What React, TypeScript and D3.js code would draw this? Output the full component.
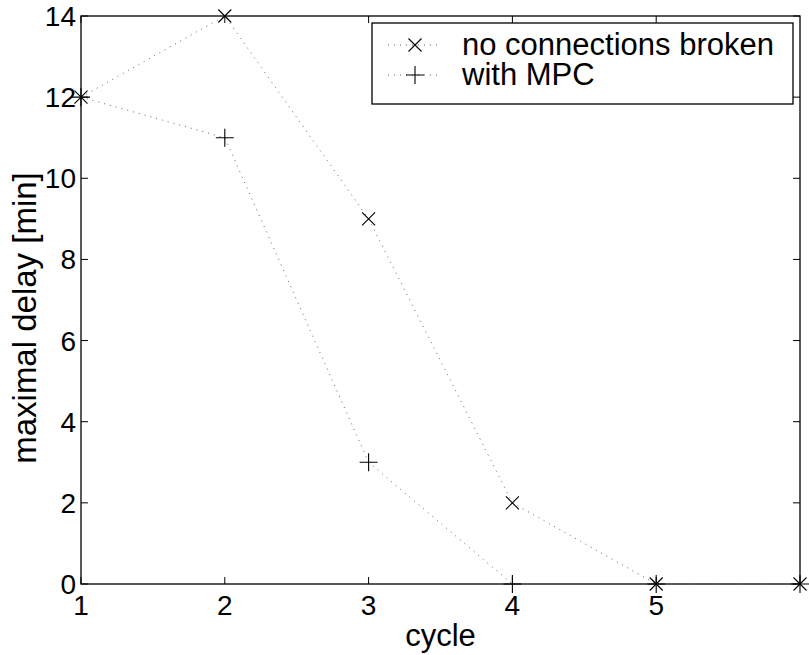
import React, { useEffect, useRef } from 'react'
import * as d3 from 'd3'

const cycles = [1, 2, 3, 4, 5, 6]
const noBroken = [12, 14, 9, 2, 0, 0]
const withMPC = [12, 11, 3, 0, 0, 0]
const xTicks = [1, 2, 3, 4, 5]
const yTicks = [0, 2, 4, 6, 8, 10, 12, 14]
const seriesNames = ['no connections broken', 'with MPC']

export default function App() {
    const svgRef = useRef<SVGSVGElement>(null)
    const width = 809, height = 655
    const margin = { top: 16, right: 9, bottom: 71, left: 81 }

    useEffect(() => {
        const svg = d3.select(svgRef.current)
        svg.selectAll('*').remove()
        const font = '"Liberation Sans", Arial, Helvetica, sans-serif'

        const x = d3.scaleLinear().domain([1, 6]).range([margin.left, width - margin.right])
        const y = d3.scaleLinear().domain([0, 14]).range([height - margin.bottom, margin.top])
        const x0 = x.range()[0], x1 = x.range()[1]
        const y0 = y.range()[0], y1 = y.range()[1]
        const tl = 7

        // box
        svg.append('rect')
            .attr('x', x0).attr('y', y1)
            .attr('width', x1 - x0).attr('height', y0 - y1)
            .attr('fill', 'none').attr('stroke', 'black').attr('stroke-width', 1.3)

        // ticks
        xTicks.forEach(t => {
            svg.append('line').attr('x1', x(t)).attr('x2', x(t)).attr('y1', y0).attr('y2', y0 - tl).attr('stroke', 'black')
            svg.append('line').attr('x1', x(t)).attr('x2', x(t)).attr('y1', y1).attr('y2', y1 + tl).attr('stroke', 'black')
            svg.append('text').attr('x', x(t)).attr('y', y0 + 31)
                .attr('text-anchor', 'middle').attr('font-size', 28).attr('font-family', font)
                .text(t)
        })
        yTicks.forEach(t => {
            svg.append('line').attr('x1', x0).attr('x2', x0 + tl).attr('y1', y(t)).attr('y2', y(t)).attr('stroke', 'black')
            svg.append('line').attr('x1', x1).attr('x2', x1 - tl).attr('y1', y(t)).attr('y2', y(t)).attr('stroke', 'black')
            svg.append('text').attr('x', x0 - 5).attr('y', y(t) + 10)
                .attr('text-anchor', 'end').attr('font-size', 28).attr('font-family', font)
                .text(t)
        })

        svg.append('text').attr('x', (x0 + x1) / 2).attr('y', 646)
            .attr('text-anchor', 'middle').attr('font-size', 31).attr('font-family', font)
            .text('cycle')
        svg.append('text')
            .attr('transform', `translate(36,${(y0 + y1) / 2 + 18}) rotate(-90)`)
            .attr('text-anchor', 'middle').attr('font-size', 33).attr('font-family', font)
            .text('maximal delay [min]')

        const line = d3.line<number>().x((d, i) => x(cycles[i])).y(d => y(d))
        const drawMarker = (g: any, cx: number, cy: number, kind: string) => {
            if (kind === 'x') {
                const s = 6.5
                g.append('path').attr('d', `M${cx - s},${cy - s}L${cx + s},${cy + s}M${cx - s},${cy + s}L${cx + s},${cy - s}`)
                    .attr('stroke', 'black').attr('stroke-width', 1.1).attr('fill', 'none')
            } else {
                const s = 9
                g.append('path').attr('d', `M${cx - s},${cy}L${cx + s},${cy}M${cx},${cy - s}L${cx},${cy + s}`)
                    .attr('stroke', 'black').attr('stroke-width', 1.1).attr('fill', 'none')
            }
        }

        const series = [
            { vals: noBroken, kind: 'x' },
            { vals: withMPC, kind: '+' },
        ]
        series.forEach(s => {
            svg.append('path').attr('d', line(s.vals))
                .attr('fill', 'none').attr('stroke', '#666').attr('stroke-width', 1)
                .attr('stroke-dasharray', '1,5')
            s.vals.forEach((v, i) => drawMarker(svg, x(cycles[i]), y(v), s.kind))
        })

        // legend
        const lg = svg.append('g')
        lg.append('rect').attr('x', 372).attr('y', 23).attr('width', 421).attr('height', 81)
            .attr('fill', 'white').attr('stroke', 'black').attr('stroke-width', 1.3)
        series.forEach((s, i) => {
            const ly = 45 + i * 30
            lg.append('line').attr('x1', 388).attr('x2', 440).attr('y1', ly).attr('y2', ly)
                .attr('stroke', '#666').attr('stroke-dasharray', '1,5')
            drawMarker(lg, 415, ly, s.kind)
            lg.append('text').attr('x', 462).attr('y', ly + 10)
                .attr('font-size', 31).attr('font-family', font)
                .text(seriesNames[i])
        })
    }, [])

    return (
        <svg ref={svgRef} width={width} height={height}
            style={{ position: 'absolute', left: 0, top: 0, background: 'white' }} />
    )
}
